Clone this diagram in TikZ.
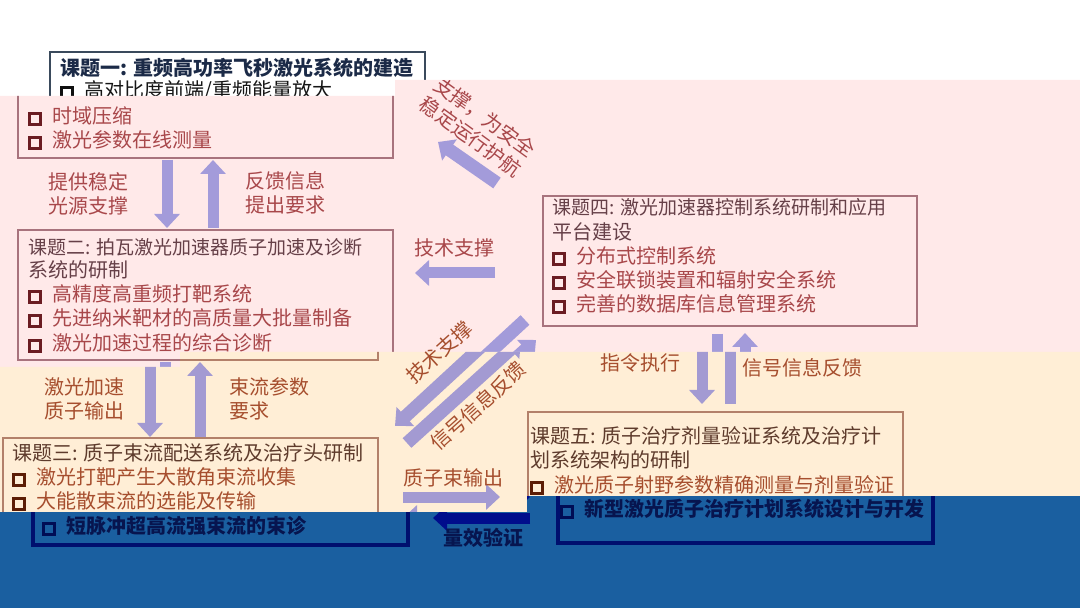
\documentclass[tikz,border=0pt]{standalone}
\usepackage{fontspec}
\setmainfont{Noto Sans CJK SC}
\usetikzlibrary{arrows.meta}

\definecolor{pinkbg}{HTML}{FFE9E9}
\definecolor{creambg}{HTML}{FFEED6}
\definecolor{bluebg}{HTML}{1A5FA0}

% hollow square bullet
\newcommand{\bx}{\textcolor{bul}{\raisebox{0.3pt}{\setlength{\fboxsep}{0pt}\setlength{\fboxrule}{1.5pt}\fbox{\rule{0pt}{4pt}\hspace{4pt}}}}\hspace{5pt}}

% colours and fonts of the four bands
\newcommand{\whiteBand}{%
  \definecolor{frm}{HTML}{3A4A5C}\definecolor{ttlc}{HTML}{1B2A47}\definecolor{itmc}{HTML}{151515}%
  \definecolor{bul}{HTML}{101010}\definecolor{lblc}{HTML}{8B2F2F}\definecolor{arwc}{HTML}{A59CDA}%
  \def\ttlf{\fontsize{10}{12}\selectfont\bfseries}\def\itmf{\fontsize{10}{12}\selectfont}\def\lblf{\itmf}}
\newcommand{\pinkBand}{%
  \definecolor{frm}{HTML}{A8737D}\definecolor{ttlc}{HTML}{664048}\definecolor{itmc}{HTML}{A8474A}%
  \definecolor{bul}{HTML}{6B1C22}\definecolor{lblc}{HTML}{A8474A}\definecolor{arwc}{HTML}{A39BDA}%
  \def\ttlf{\fontsize{10}{12}\selectfont}\def\itmf{\fontsize{10}{12}\selectfont}\def\lblf{\itmf}}
\newcommand{\creamBand}{%
  \definecolor{frm}{HTML}{B3806A}\definecolor{ttlc}{HTML}{5E3B2C}\definecolor{itmc}{HTML}{A64E2E}%
  \definecolor{bul}{HTML}{5C1D05}\definecolor{lblc}{HTML}{A64E2E}\definecolor{arwc}{HTML}{A39AD2}%
  \def\ttlf{\fontsize{10}{12}\selectfont}\def\itmf{\fontsize{10}{12}\selectfont}\def\lblf{\itmf}}
\newcommand{\blueBand}{%
  \definecolor{frm}{HTML}{000F6E}\definecolor{ttlc}{HTML}{07154F}\definecolor{itmc}{HTML}{07154F}%
  \definecolor{bul}{HTML}{000D55}\definecolor{lblc}{HTML}{07154F}\definecolor{arwc}{HTML}{000D8C}%
  \def\ttlf{\fontsize{10}{12}\selectfont\bfseries}\def\itmf{\fontsize{10}{12}\selectfont\bfseries}\def\lblf{\itmf}%
  \tikzset{frame/.append style={line width=1.7pt}}}

\tikzset{
  frame/.style={draw=frm, line width=1pt, inner sep=0pt, outer sep=0pt, anchor=north west},
  ttl/.style={anchor=west, inner sep=0pt, text=ttlc, font=\ttlf},
  ttlsmall/.style={ttl, font=\ttlf\fontsize{9.5}{12}\selectfont},
  itm/.style={anchor=west, inner sep=0pt, text=itmc, font=\itmf},
  lbl/.style={inner sep=0pt, text=lblc, font=\lblf, align=left},
  blk/.style={draw=arwc, line width=5.5pt, -{Triangle[length=7pt, width=12.5pt]}},
  diag/.style={blk, line width=6.5pt},
}

% topic boxes and the block arrows between them
\newcommand{\drawBoxes}{%
  \node[frame, minimum width=187.5pt, minimum height=53pt] (b1) at (18,52) {};
  \node[frame, minimum width=187.5pt, minimum height=65pt] (b2) at (18,230) {};
  \node[frame, minimum width=187.5pt, minimum height=53.5pt] (b3) at (18,438) {};
  \node[frame, minimum width=187pt, minimum height=65pt] (b4) at (543,196) {};
  \node[frame, minimum width=187.5pt, minimum height=65.5pt] (b5) at (543,412) {};
  \draw[blk] ([shift={(149,2)}]b1.south west) -- ([shift={(149,-2)}]b2.north west);
  \draw[blk] ([shift={(195,-2)}]b2.north west) -- ([shift={(195,2)}]b1.south west);
  \draw[blk] ([shift={(147,2)}]b2.south west) -- ([shift={(147,-1)}]b3.north west);
  \draw[blk] ([shift={(197,-1)}]b3.north west) -- ([shift={(197,2)}]b2.south west);
  \draw[blk] ([shift={(-48,12)}]b4.west) -- ([shift={(22,-22)}]b2.east);
  \draw[diag] ([shift={(-46,-13)}]b4.north west) -- ([shift={(45,-16)}]b1.south east);
  \draw[diag] ([shift={(-18,-6)}]b4.south west) -- ([shift={(17,-12)}]b3.north east);
  \draw[diag] ([shift={(29,5)}]b3.north east) -- ([shift={(-7,14)}]b4.south west);
  \draw[blk] ([shift={(174,8)}]b4.south west) -- ([shift={(174,-8)}]b5.north west);
  \draw[blk] ([shift={(202,-8)}]b5.north west) -- ([shift={(202,7)}]b4.south west);
  \draw[blk] ([shift={(25,59)}]b3.north east) -- ([shift={(-28,85)}]b5.north west);
  \draw[blk] ([shift={(-28,106)}]b5.north west) -- ([shift={(25,80)}]b3.north east);
}

\begin{document}
\begin{tikzpicture}[x=0.5pt, y=-0.5pt]
  \useasboundingbox (0,0) rectangle (1080,608);
  % white band, shifted right
  \begin{scope}
    \clip (0,0) -- (1080,0) -- (1080,80) -- (395,80) -- (395,96) -- (0,96) -- cycle;
    \fill[white] (0,0) rectangle (1080,608);
    \begin{scope}[xshift=16pt]
      \whiteBand \drawBoxes
      \node[ttl] (t1) at (28,68) {课题一: 重频高功率飞秒激光系统的建造};
      \node[itm] (i1-1) at (28,91.2) {\bx 高对比度前端/重频能量放大};
    \end{scope}
  \end{scope}
  % pink band
  \begin{scope}
    \clip (0,96) -- (395,96) -- (395,80) -- (1080,80) -- (1080,352) -- (180,352) -- (180,367) -- (0,367) -- cycle;
    \fill[pinkbg] (0,0) rectangle (1080,608);
    \pinkBand \drawBoxes
    \foreach \s [count=\i from 2] in {时域压缩, 激光参数在线测量}
      \node[itm] (i1-\i) at (28,{66.5+24.7*\i}) {\bx\s};
    \node[ttlsmall] (t2) at (28,247) {课题二: 拍瓦激光加速器质子加速及诊断};
    \node[ttl] (t2b) at (28,270) {系统的研制};
    \foreach \s [count=\i] in {高精度高重频打靶系统, 先进纳米靶材的高质量大批量制备, 激光加速过程的综合诊断}
      \node[itm] (i2-\i) at (28,{269.7+24.5*\i}) {\bx\s};
    \node[ttlsmall] (t4) at (552,207) {课题四: 激光加速器控制系统研制和应用};
    \node[ttl] (t4b) at (552,232) {平台建设};
    \foreach \s [count=\i] in {分布式控制系统, 安全联锁装置和辐射安全系统, 完善的数据库信息管理系统}
      \node[itm] (i4-\i) at (552,{231.8+24.2*\i}) {\bx\s};
    \node[lbl, anchor=west] (l1) at (48,194) {提供稳定\\光源支撑};
    \node[lbl, anchor=west] (l2) at (245,193) {反馈信息\\提出要求};
    \node[lbl] (l5) at (454,248) {技术支撑};
    \node[lbl, align=center, rotate=-36] (l6) at (478,127) {支撑，为安全\\稳定运行护航};
  \end{scope}
  % cream band, shifted left
  \begin{scope}
    \clip (0,367) -- (180,367) -- (180,352) -- (1080,352) -- (1080,496) -- (527,496) -- (527,512) -- (0,512) -- cycle;
    \fill[creambg] (0,0) rectangle (1080,608);
    \begin{scope}[xshift=-7.5pt]
      \creamBand \drawBoxes
      \node[ttl] (t3) at (27,453) {课题三: 质子束流配送系统及治疗头研制};
      \node[itm] (i3-1) at (27,477) {\bx 激光打靶产生大散角束流收集};
      \node[itm] (i3-2) at (27,501.4) {\bx 大能散束流的选能及传输};
      \node[ttl] (t5) at (545,436) {课题五: 质子治疗剂量验证系统及治疗计};
      \node[ttl] (t5b) at (545,460) {划系统架构的研制};
      \node[itm] (i5-1) at (545,485) {\bx 激光质子射野参数精确测量与剂量验证};
      \node[lbl, rotate=42] (l8) at (493,406) {信号信息反馈};
      \node[lbl, anchor=west] (l3) at (59,399) {激光加速\\质子输出};
      \node[lbl, anchor=west] (l4) at (244,399) {束流参数\\要求};
      \node[lbl, anchor=west] (l9) at (615,363) {指令执行};
      \node[lbl, anchor=west] (l10) at (757,368) {信号信息反馈};
      \node[lbl, anchor=west] (l11) at (418,478) {质子束输出};
    \end{scope}
  \end{scope}
  % blue band, shifted right
  \begin{scope}
    \clip (0,512) -- (527,512) -- (527,496) -- (1080,496) -- (1080,608) -- (0,608) -- cycle;
    \fill[bluebg] (0,0) rectangle (1080,608);
    \begin{scope}[xshift=7.5pt]
      \blueBand \drawBoxes
      \node[itm] (i3-3) at (27,525.8) {\bx 短脉冲超高流强束流的束诊};
      \node[itm] (i5-2) at (545,509.3) {\bx 新型激光质子治疗计划系统设计与开发};
      \node[lbl, anchor=west] (l12) at (428,538) {量效验证};
    \end{scope}
  \end{scope}
  % label across the pink and cream bands
  \begin{scope}[xshift=-3.75pt]
    \creamBand
    \node[lbl, rotate=42] (l7) at (447,352) {技术支撑};
  \end{scope}
\end{tikzpicture}
\end{document}
